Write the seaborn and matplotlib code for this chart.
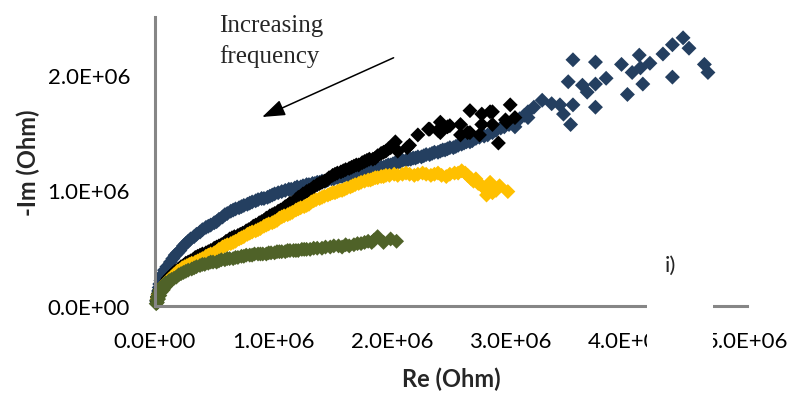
import pandas as pd
import seaborn as sns
import matplotlib.pyplot as plt
from matplotlib.ticker import FuncFormatter, MultipleLocator
from matplotlib.patches import Rectangle

# Nyquist readings (Re, -Im) in MOhm
blue = [(0.015, 0.04), (0.02, 0.07), (0.025, 0.10), (0.03, 0.13), (0.035, 0.16),
        (0.04, 0.19), (0.05, 0.22), (0.06, 0.25), (0.07, 0.28), (0.08, 0.31),
        (0.10, 0.34), (0.13, 0.38), (0.15, 0.41), (0.17, 0.44), (0.19, 0.46),
        (0.21, 0.48), (0.24, 0.52), (0.26, 0.54), (0.28, 0.56), (0.30, 0.58),
        (0.33, 0.60), (0.35, 0.62), (0.38, 0.64), (0.40, 0.66), (0.43, 0.68),
        (0.45, 0.69), (0.47, 0.70), (0.50, 0.72), (0.52, 0.73), (0.54, 0.75),
        (0.57, 0.77), (0.59, 0.79), (0.61, 0.80), (0.64, 0.82), (0.66, 0.83),
        (0.68, 0.84), (0.71, 0.85), (0.73, 0.86), (0.75, 0.87), (0.78, 0.88),
        (0.80, 0.89), (0.82, 0.90), (0.85, 0.91), (0.87, 0.92), (0.90, 0.93),
        (0.92, 0.93), (0.95, 0.94), (0.97, 0.95), (0.99, 0.96), (1.01, 0.97),
        (1.04, 0.98), (1.07, 0.99), (1.10, 1.00), (1.13, 1.01), (1.15, 1.01),
        (1.18, 1.02), (1.20, 1.03), (1.23, 1.03), (1.25, 1.04), (1.28, 1.05),
        (1.30, 1.05), (1.33, 1.06), (1.35, 1.06), (1.37, 1.07), (1.39, 1.07),
        (1.41, 1.08), (1.44, 1.08), (1.46, 1.09), (1.49, 1.10), (1.51, 1.10),
        (1.54, 1.11), (1.56, 1.12), (1.58, 1.12), (1.60, 1.13), (1.63, 1.13),
        (1.65, 1.14), (1.68, 1.14), (1.70, 1.14), (1.73, 1.15), (1.75, 1.15),
        (1.77, 1.16), (1.80, 1.17), (1.82, 1.17), (1.84, 1.18), (1.86, 1.18),
        (1.88, 1.19), (1.91, 1.20), (1.93, 1.20), (1.95, 1.21), (1.97, 1.22),
        (1.99, 1.22), (2.01, 1.23), (2.03, 1.24), (2.05, 1.24), (2.07, 1.25),
        (2.09, 1.26), (2.12, 1.26), (2.14, 1.27), (2.16, 1.27), (2.18, 1.28),
        (2.20, 1.28), (2.22, 1.29), (2.25, 1.29), (2.27, 1.30), (2.29, 1.31),
        (2.32, 1.31), (2.34, 1.32), (2.36, 1.33), (2.39, 1.33), (2.41, 1.34),
        (2.43, 1.35), (2.45, 1.35), (2.47, 1.36), (2.49, 1.37), (2.52, 1.37),
        (2.54, 1.38), (2.56, 1.39), (2.59, 1.40), (2.61, 1.41), (2.63, 1.42),
        (2.66, 1.42), (2.68, 1.43), (2.71, 1.45), (2.74, 1.46), (2.78, 1.47),
        (2.81, 1.48), (2.85, 1.50), (2.88, 1.52), (2.92, 1.54), (2.95, 1.55),
        (2.99, 1.57), (3.02, 1.58), (3.05, 1.60), (3.08, 1.62), (3.12, 1.65),
        (3.15, 1.68), (3.20, 1.72), (3.04, 1.55), (3.15, 1.63),
        (3.27, 1.78), (3.35, 1.75), (3.42, 1.74), (3.45, 1.66), (3.51, 1.57),
        (3.53, 1.74), (3.49, 1.94), (3.53, 2.13), (3.61, 1.91), (3.65, 1.85),
        (3.72, 2.11), (3.72, 1.92), (3.72, 1.72), (3.81, 1.97), (3.94, 2.09),
        (3.99, 1.83), (4.03, 2.02), (4.09, 2.17), (4.10, 2.06), (4.12, 1.92),
        (4.18, 2.10), (4.29, 2.18), (4.37, 2.26), (4.37, 1.98), (4.46, 2.32),
        (4.51, 2.23), (4.64, 2.09), (4.67, 2.02)]

black = [(0.015, 0.05), (0.02, 0.08), (0.03, 0.11), (0.04, 0.14), (0.06, 0.17),
         (0.08, 0.19), (0.10, 0.22), (0.11, 0.24), (0.13, 0.26), (0.15, 0.28),
         (0.17, 0.30), (0.20, 0.32), (0.22, 0.34), (0.24, 0.35), (0.26, 0.37),
         (0.28, 0.38), (0.30, 0.39), (0.32, 0.40), (0.34, 0.42), (0.36, 0.43),
         (0.38, 0.44), (0.40, 0.45), (0.43, 0.46), (0.45, 0.47), (0.47, 0.48),
         (0.50, 0.50), (0.52, 0.51), (0.54, 0.52), (0.56, 0.53), (0.58, 0.54),
         (0.60, 0.56), (0.63, 0.58), (0.65, 0.59), (0.67, 0.60), (0.70, 0.61),
         (0.72, 0.62), (0.74, 0.63), (0.77, 0.65), (0.79, 0.66), (0.81, 0.67),
         (0.83, 0.69), (0.85, 0.70), (0.88, 0.72), (0.90, 0.73), (0.92, 0.74),
         (0.94, 0.76), (0.97, 0.78), (0.99, 0.79), (1.01, 0.80), (1.04, 0.82),
         (1.06, 0.83), (1.08, 0.84), (1.10, 0.86), (1.12, 0.87), (1.14, 0.89),
         (1.17, 0.90), (1.19, 0.92), (1.21, 0.94), (1.23, 0.95), (1.25, 0.97),
         (1.28, 0.99), (1.30, 1.00), (1.32, 1.01), (1.34, 1.03), (1.37, 1.05),
         (1.39, 1.06), (1.41, 1.07), (1.43, 1.08), (1.45, 1.09), (1.47, 1.11),
         (1.50, 1.13), (1.52, 1.14), (1.54, 1.15), (1.57, 1.16), (1.59, 1.17),
         (1.61, 1.18), (1.64, 1.19), (1.66, 1.20), (1.68, 1.21), (1.70, 1.22),
         (1.72, 1.22), (1.75, 1.24), (1.77, 1.25), (1.79, 1.26), (1.81, 1.27),
         (1.84, 1.27), (1.86, 1.28), (1.88, 1.30), (1.91, 1.32), (1.93, 1.33),
         (1.95, 1.34), (1.97, 1.36), (1.99, 1.37),
         (2.03, 1.42), (2.05, 1.34), (2.13, 1.37), (2.15, 1.39), (2.22, 1.48),
         (2.31, 1.53), (2.32, 1.53), (2.39, 1.52), (2.41, 1.50), (2.41, 1.59),
         (2.47, 1.55), (2.49, 1.56), (2.58, 1.57), (2.58, 1.48), (2.64, 1.50),
         (2.66, 1.69), (2.66, 1.50), (2.74, 1.48), (2.76, 1.66), (2.76, 1.57),
         (2.83, 1.68), (2.85, 1.57), (2.85, 1.68), (2.90, 1.41), (2.96, 1.61),
         (2.97, 1.59), (3.00, 1.74), (3.04, 1.63)]

gold = [(0.02, 0.06), (0.03, 0.10), (0.045, 0.13), (0.06, 0.16), (0.08, 0.19),
        (0.10, 0.21), (0.12, 0.23), (0.14, 0.25), (0.16, 0.27), (0.19, 0.30),
        (0.21, 0.31), (0.23, 0.33), (0.25, 0.34), (0.27, 0.35), (0.29, 0.36),
        (0.31, 0.37), (0.34, 0.38), (0.36, 0.39), (0.38, 0.40), (0.40, 0.41),
        (0.43, 0.43), (0.45, 0.44), (0.47, 0.45), (0.50, 0.46), (0.52, 0.47),
        (0.54, 0.49), (0.57, 0.51), (0.59, 0.52), (0.61, 0.53), (0.64, 0.54),
        (0.66, 0.55), (0.68, 0.56), (0.71, 0.58), (0.73, 0.59), (0.75, 0.60),
        (0.78, 0.62), (0.80, 0.63), (0.82, 0.64), (0.85, 0.65), (0.87, 0.66),
        (0.89, 0.67), (0.92, 0.69), (0.94, 0.70), (0.96, 0.71), (0.99, 0.72),
        (1.01, 0.73), (1.03, 0.74), (1.05, 0.76), (1.07, 0.77), (1.09, 0.78),
        (1.12, 0.79), (1.14, 0.80), (1.16, 0.81), (1.19, 0.83), (1.21, 0.84),
        (1.23, 0.85), (1.26, 0.86), (1.28, 0.87), (1.30, 0.88), (1.32, 0.90),
        (1.34, 0.91), (1.36, 0.92), (1.39, 0.93), (1.41, 0.94), (1.43, 0.95),
        (1.46, 0.96), (1.48, 0.97), (1.50, 0.98), (1.52, 0.98), (1.54, 0.99),
        (1.56, 1.00), (1.58, 1.00), (1.60, 1.01), (1.62, 1.02), (1.65, 1.03),
        (1.67, 1.04), (1.69, 1.05), (1.72, 1.06), (1.74, 1.07), (1.77, 1.08),
        (1.80, 1.09), (1.82, 1.09), (1.84, 1.10), (1.86, 1.11), (1.88, 1.11),
        (1.91, 1.12), (1.93, 1.12), (1.95, 1.13), (1.98, 1.13), (2.02, 1.14),
        (2.05, 1.13), (2.09, 1.14), (2.12, 1.15), (2.15, 1.14), (2.19, 1.13),
        (2.22, 1.14), (2.26, 1.15), (2.29, 1.14), (2.33, 1.13), (2.36, 1.14),
        (2.39, 1.15), (2.42, 1.13), (2.46, 1.12), (2.49, 1.14), (2.53, 1.15),
        (2.56, 1.15), (2.59, 1.17), (2.62, 1.15), (2.64, 1.13), (2.67, 1.10),
        (2.69, 1.08), (2.71, 1.10), (2.73, 1.06), (2.76, 1.04), (2.78, 1.02),
        (2.80, 0.96), (2.83, 1.07), (2.85, 0.98), (2.88, 1.00), (2.91, 1.04),
        (2.98, 0.99)]

green = [(0.01, 0.02), (0.015, 0.05), (0.02, 0.03), (0.02, 0.08), (0.03, 0.06),
         (0.03, 0.11), (0.04, 0.09), (0.04, 0.14), (0.05, 0.12), (0.055, 0.16),
         (0.07, 0.14), (0.07, 0.18), (0.09, 0.17), (0.09, 0.20), (0.11, 0.19),
         (0.12, 0.22), (0.14, 0.23), (0.16, 0.24), (0.18, 0.25), (0.20, 0.27),
         (0.22, 0.28), (0.24, 0.29), (0.26, 0.30), (0.28, 0.31), (0.31, 0.32),
         (0.33, 0.33), (0.35, 0.34), (0.38, 0.35), (0.40, 0.36), (0.42, 0.36),
         (0.45, 0.37), (0.47, 0.38), (0.49, 0.38), (0.52, 0.38), (0.54, 0.39),
         (0.56, 0.40), (0.59, 0.40), (0.61, 0.41), (0.63, 0.41), (0.66, 0.41),
         (0.68, 0.42), (0.70, 0.42), (0.73, 0.43), (0.75, 0.43), (0.77, 0.44),
         (0.80, 0.44), (0.82, 0.44), (0.84, 0.45), (0.87, 0.45), (0.89, 0.45),
         (0.91, 0.45), (0.94, 0.45), (0.96, 0.46), (0.98, 0.46), (1.01, 0.46),
         (1.03, 0.47), (1.05, 0.47), (1.07, 0.47), (1.10, 0.47), (1.12, 0.48),
         (1.14, 0.48), (1.17, 0.48), (1.19, 0.48), (1.21, 0.48), (1.24, 0.49),
         (1.26, 0.49), (1.28, 0.49), (1.31, 0.49), (1.34, 0.50), (1.37, 0.50),
         (1.41, 0.50), (1.44, 0.51), (1.48, 0.51), (1.51, 0.52), (1.55, 0.52),
         (1.58, 0.51), (1.61, 0.53), (1.64, 0.52), (1.68, 0.53), (1.71, 0.54),
         (1.74, 0.54), (1.77, 0.55), (1.80, 0.56), (1.83, 0.55), (1.85, 0.57),
         (1.88, 0.60), (1.93, 0.55), (1.99, 0.58), (2.04, 0.56)]

series = ['blue', 'black', 'gold', 'green']
colors = {'blue': '#243F60', 'black': '#000000', 'gold': '#FFC000', 'green': '#4F6228'}

frames = []
for name, pts in [('blue', blue), ('black', black), ('gold', gold), ('green', green)]:
    frames.append(pd.DataFrame({'re': [p[0] * 1e6 for p in pts],
                                'im': [p[1] * 1e6 for p in pts],
                                'series': name}))
df = pd.concat(frames, ignore_index=True)

sns.set_style('white')
plt.rcParams['font.family'] = ['Lato', 'DejaVu Sans']

fig = plt.figure(figsize=(7.93, 4.02), dpi=100)
ax = fig.add_axes([0.1955, 0.2363, 0.7465, 0.7189])

sns.scatterplot(data=df, x='re', y='im', hue='series', hue_order=series,
                palette=colors, marker='D', s=58, linewidth=0, legend=False,
                ax=ax, clip_on=False)

ax.set_xlim(0, 5e6)
ax.set_ylim(0, 2.5e6)
ax.xaxis.set_major_locator(MultipleLocator(1e6))
ax.yaxis.set_major_locator(MultipleLocator(1e6))
sci = FuncFormatter(lambda v, p: f'{v:.1E}')
ax.xaxis.set_major_formatter(sci)
ax.yaxis.set_major_formatter(sci)

for side in ['top', 'right']:
    ax.spines[side].set_visible(False)
for side in ['left', 'bottom']:
    ax.spines[side].set_color('#868686')
    ax.spines[side].set_linewidth(2.2)
ax.tick_params(axis='both', direction='out', length=6, width=2.2, color='#868686',
               labelsize=16, labelcolor='black')
ax.tick_params(axis='x', pad=12)
ax.tick_params(axis='y', pad=12)

ax.set_xlabel('Re (Ohm)', fontsize=17, fontweight='bold')
ax.set_ylabel('-Im (Ohm)', fontsize=17, fontweight='bold')
ax.xaxis.set_label_coords(0.5, -0.21)
ax.yaxis.set_label_coords(-0.195, 0.5)

fig.text(219 / 793, 1 - 15 / 402, 'Increasing\nfrequency', family='Liberation Serif',
         fontsize=18, va='top', ha='left', linespacing=1.45)
ax.annotate('', xy=(0.181, 0.654), xytext=(0.403, 0.859), xycoords='axes fraction',
            arrowprops=dict(arrowstyle='-|>,head_length=1.4,head_width=0.5',
                            color='black', lw=1.1, mutation_scale=10,
                            shrinkA=0, shrinkB=0))

# white label box over the right end of the x axis
fig.add_artist(Rectangle((647 / 793, 1 - 362 / 402), 66 / 793, 125 / 402,
                         transform=fig.transFigure, facecolor='white',
                         edgecolor='none', zorder=10))
fig.text(665 / 793, 1 - 266 / 402, 'i)', fontsize=16, va='center', ha='left', zorder=11)

fig.savefig('out.png', dpi=100)
